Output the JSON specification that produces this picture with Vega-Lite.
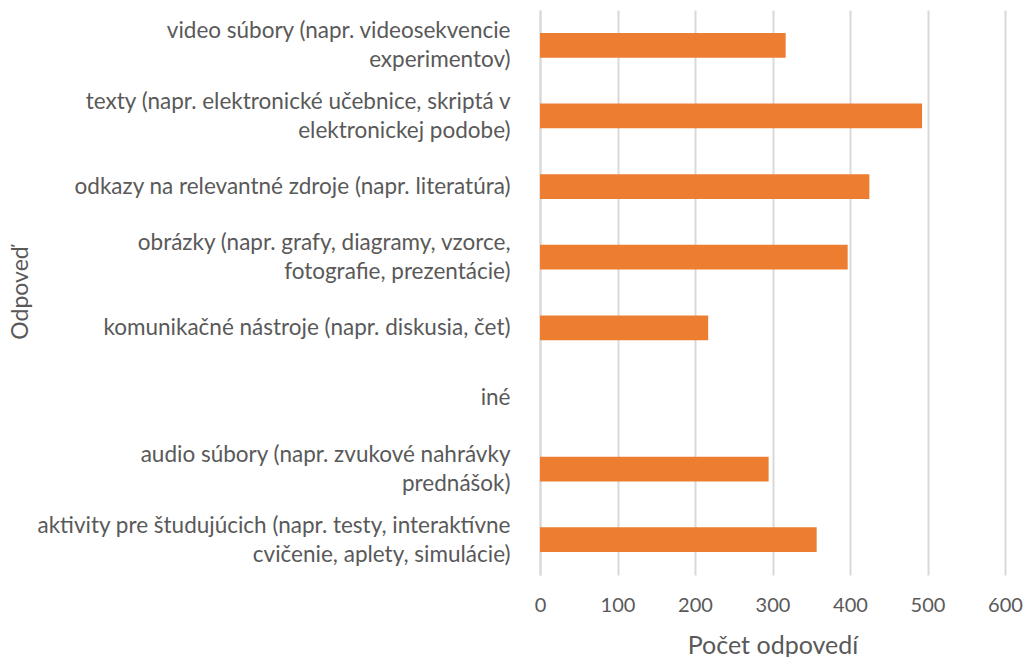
{
  "$schema": "https://vega.github.io/schema/vega-lite/v6.json",
  "autosize": {"type": "none"},
  "width": 465,
  "height": 565,
  "padding": {"left": 540, "top": 10, "right": 22, "bottom": 82},
  "background": "white",
  "config": {
    "view": {"stroke": null},
    "font": "Lato",
    "axis": {"labelColor": "#595959", "titleColor": "#595959", "titleFontWeight": "normal", "labelFont": "Lato", "titleFont": "Lato"}
  },
  "data": {
    "values": [
      {"odpoved": "video súbory (napr. videosekvencie\nexperimentov)", "pocet": 317},
      {"odpoved": "texty (napr. elektronické učebnice, skriptá v\nelektronickej podobe)", "pocet": 493},
      {"odpoved": "odkazy na relevantné zdroje (napr. literatúra)", "pocet": 425},
      {"odpoved": "obrázky (napr. grafy, diagramy, vzorce,\nfotografie, prezentácie)", "pocet": 397},
      {"odpoved": "komunikačné nástroje (napr. diskusia, čet)", "pocet": 217},
      {"odpoved": "iné", "pocet": 0},
      {"odpoved": "audio súbory (napr. zvukové nahrávky\nprednášok)", "pocet": 295},
      {"odpoved": "aktivity pre študujúcich (napr. testy, interaktívne\ncvičenie, aplety, simulácie)", "pocet": 357}
    ]
  },
  "mark": {"type": "bar", "color": "#ED7D31"},
  "encoding": {
    "y": {
      "field": "odpoved",
      "type": "nominal",
      "sort": null,
      "scale": {"paddingInner": 0.65, "paddingOuter": 0.325},
      "axis": {
        "title": "Odpoveď",
        "titleFontSize": 23,
        "titleX": -520,
        "titleY": 282.5,
        "titleAlign": "center",
        "titleBaseline": "middle",
        "titleAngle": -90,
        "labelExpr": "split(datum.value, '\\n')",
        "labelFontSize": 22.5,
        "labelLineHeight": 29,
        "labelOffset": {"condition": {"test": "indexof(datum.value, '\\n') >= 0", "value": -14}, "value": 0},
        "labelPadding": 30,
        "labelLimit": 600,
        "ticks": false,
        "domain": true,
        "domainColor": "#D9D9D9",
        "domainWidth": 2,
        "grid": false
      }
    },
    "x": {
      "field": "pocet",
      "type": "quantitative",
      "scale": {"domain": [0, 600]},
      "axis": {
        "title": "Počet odpovedí",
        "titleFontSize": 25,
        "titlePadding": 18,
        "values": [0, 100, 200, 300, 400, 500, 600],
        "labelFontSize": 20,
        "labelPadding": 20,
        "labelFlush": false,
        "ticks": false,
        "domain": false,
        "grid": true,
        "gridColor": "#D9D9D9",
        "gridWidth": 2
      }
    }
  }
}
